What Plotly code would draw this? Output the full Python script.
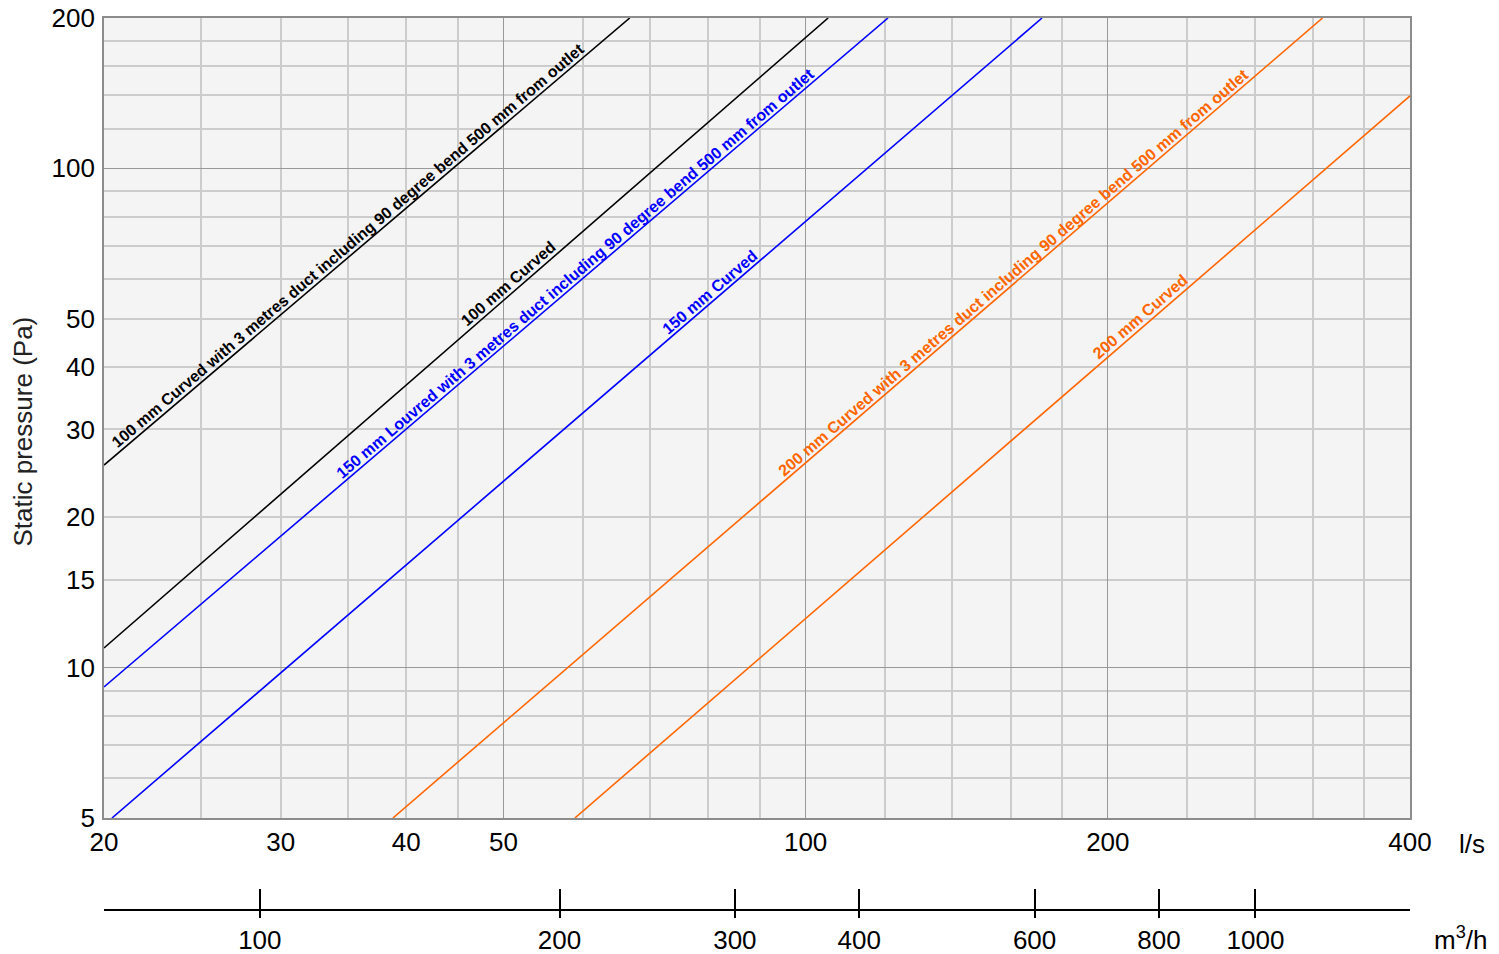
import math
import numpy as np
import plotly.graph_objects as go

# ---------------- data ----------------
# flow in l/s, static pressure in Pa (straight lines on log-log axes)
flow_100_curved_duct = [20, 66.8]
pa_100_curved_duct = [25.45, 200]

flow_100_curved = [20, 105.3]
pa_100_curved = [10.95, 200]

flow_150_louvred_duct = [20, 120.8]
pa_150_louvred_duct = [9.15, 200]

flow_150_curved = [20.37, 172.0]
pa_150_curved = [5, 200]

flow_200_curved_duct = [38.8, 327.3]
pa_200_curved_duct = [5, 200]

flow_200_curved = [58.9, 400]
pa_200_curved = [5, 139.6]

series_names = [
    "100 mm Curved with 3 metres duct including 90 degree bend 500 mm from outlet",
    "100 mm Curved",
    "150 mm Louvred with 3 metres duct including 90 degree bend 500 mm from outlet",
    "150 mm Curved",
    "200 mm Curved with 3 metres duct including 90 degree bend 500 mm from outlet",
    "200 mm Curved",
]
series_flows = [flow_100_curved_duct, flow_100_curved, flow_150_louvred_duct,
                flow_150_curved, flow_200_curved_duct, flow_200_curved]
series_pas = [pa_100_curved_duct, pa_100_curved, pa_150_louvred_duct,
              pa_150_curved, pa_200_curved_duct, pa_200_curved]
series_colors = ["#000000", "#000000", "#0000ff", "#0000ff", "#ff6600", "#ff6600"]
label_flow = [35, 50.6, 58.9, 80.2, 161, 215.6]   # l/s at centre of each label

# axes
x_range_ls = [20, 400]
y_range_pa = [5, 200]
x_label_ticks = [20, 30, 40, 50, 100, 200, 400]
x_major_grid = [50, 100, 200]
x_minor_grid = [25, 30, 35, 40, 45, 60, 70, 80, 90, 120, 140, 160, 180, 240, 280, 320, 360]
y_label_ticks = [5, 10, 15, 20, 30, 40, 50, 100, 200]
y_major_grid = [10, 100]
y_minor_grid = [6, 7, 8, 9, 15, 20, 30, 40, 50, 60, 70, 80, 90, 120, 140, 160, 180]
m3h_ticks = [100, 200, 300, 400, 600, 800, 1000]
m3h_range_log = [1.8435, 3.1552]

# ---------------- layout geometry ----------------
W, H = 1499, 954
ML, MR, MT, MB = 104, 89, 18, 44
plot_w = W - ML - MR
paper_h = H - MT - MB
plot_bottom_px = 818
y_dom0 = (H - MB - plot_bottom_px) / paper_h
plot_h = paper_h * (1 - y_dom0)

FONT = "Liberation Sans, Arial, Helvetica, sans-serif"
LIGHT = "#cccccc"
DARK = "#999999"
FRAME = "#8c8c8c"
TICKSZ = 26

fig = go.Figure()

lx0, lx1 = math.log10(x_range_ls[0]), math.log10(x_range_ls[1])
ly0, ly1 = math.log10(y_range_pa[0]), math.log10(y_range_pa[1])
px_per_dec_x = plot_w / (lx1 - lx0)
px_per_dec_y = plot_h / (ly1 - ly0)

annotations = []
for name, fl, pa, col, lf in zip(series_names, series_flows, series_pas, series_colors, label_flow):
    fig.add_trace(go.Scatter(x=fl, y=pa, mode="lines", line=dict(color=col, width=1.6),
                             name=name, showlegend=False, hoverinfo="skip"))
    lfl = np.log10(fl)
    lpa = np.log10(pa)
    slope = (lpa[1] - lpa[0]) / (lfl[1] - lfl[0])
    ang = -math.degrees(math.atan(slope * px_per_dec_y / px_per_dec_x))
    ly = float(np.interp(math.log10(lf), lfl, lpa))
    annotations.append(dict(
        x=math.log10(lf), y=ly, xref="x", yref="y", text="<b>%s</b>" % name,
        showarrow=False, textangle=ang, yshift=12,
        font=dict(family=FONT, size=16, color=col),
        xanchor="center", yanchor="middle"))

# empty traces so overlay axes get their subplots
fig.add_trace(go.Scatter(x=[], y=[], xaxis="x3", yaxis="y", showlegend=False))
fig.add_trace(go.Scatter(x=[], y=[], xaxis="x", yaxis="y2", showlegend=False))
fig.add_trace(go.Scatter(x=[], y=[], xaxis="x2", yaxis="y", showlegend=False))
fig.add_trace(go.Scatter(x=[], y=[], xaxis="x4", yaxis="y", showlegend=False))

annotations += [
    dict(text="l/s", xref="paper", yref="paper", x=(1457 - ML) / plot_w,
         y=(H - MB - 844) / paper_h, xanchor="left", yanchor="middle", showarrow=False,
         font=dict(family=FONT, size=TICKSZ, color="#000")),
    dict(text="m<sup>3</sup>/h", xref="paper", yref="paper", x=(1432 - ML) / plot_w,
         y=(H - MB - 938) / paper_h, xanchor="left", yanchor="middle", showarrow=False,
         font=dict(family=FONT, size=TICKSZ, color="#000")),
    dict(text="Static pressure (Pa)", xref="paper", yref="paper", x=(22 - ML) / plot_w,
         y=(H - MB - 431.5) / paper_h, xanchor="center", yanchor="middle", showarrow=False,
         textangle=-90, font=dict(family=FONT, size=TICKSZ, color="#222")),
]

fig.update_layout(
    width=W, height=H, autosize=False,
    margin=dict(l=ML, r=MR, t=MT, b=MB, pad=0, autoexpand=False),
    paper_bgcolor="white", plot_bgcolor="#f4f4f4",
    font=dict(family=FONT, size=TICKSZ, color="#000"),
    showlegend=False,
    xaxis=dict(type="log", range=[lx0, lx1], anchor="y", automargin=False,
               tickmode="array", tickvals=x_major_grid, showticklabels=False, ticks="",
               showgrid=True, gridcolor=DARK, gridwidth=1.2,
               minor=dict(tickmode="array", tickvals=x_minor_grid, showgrid=True,
                          gridcolor=LIGHT, gridwidth=1.5, ticks=""),
               showline=True, mirror=True, linecolor=FRAME, linewidth=2, zeroline=False),
    xaxis3=dict(type="log", range=[lx0, lx1], anchor="y", overlaying="x", side="bottom",
                automargin=False,
                tickmode="array", tickvals=x_label_ticks,
                ticktext=[str(v) for v in x_label_ticks], ticks="",
                showgrid=False, showline=False, zeroline=False,
                tickfont=dict(family=FONT, size=TICKSZ, color="#000"),
                ticklabelstandoff=6),
    yaxis=dict(type="log", range=[ly0, ly1], domain=[y_dom0, 1], anchor="x",
               automargin=False,
               tickmode="array", tickvals=y_major_grid, showticklabels=False, ticks="",
               showgrid=True, gridcolor=DARK, gridwidth=1.2,
               minor=dict(tickmode="array", tickvals=y_minor_grid, showgrid=True,
                          gridcolor=LIGHT, gridwidth=1.5, ticks=""),
               showline=True, mirror=True, linecolor=FRAME, linewidth=2, zeroline=False),
    yaxis2=dict(type="log", range=[ly0, ly1], anchor="x", overlaying="y", side="left",
                automargin=False,
                tickmode="array", tickvals=y_label_ticks,
                ticktext=[str(v) for v in y_label_ticks], ticks="",
                showgrid=False, showline=False, zeroline=False,
                tickfont=dict(family=FONT, size=TICKSZ, color="#000"),
                ticklabelstandoff=8),
    xaxis2=dict(type="log", range=m3h_range_log, anchor="free", position=0,
                overlaying="x", side="bottom", automargin=False,
                tickmode="array", tickvals=m3h_ticks, ticktext=[str(v) for v in m3h_ticks],
                ticks="outside", ticklen=7, tickwidth=2, tickcolor="#000",
                showline=True, linecolor="#000", linewidth=2,
                showgrid=False, zeroline=False,
                tickfont=dict(family=FONT, size=TICKSZ, color="#000")),
    xaxis4=dict(type="log", range=m3h_range_log, anchor="free", position=0,
                overlaying="x", side="bottom", automargin=False,
                tickmode="array", tickvals=m3h_ticks, showticklabels=False,
                ticks="inside", ticklen=21, tickwidth=2, tickcolor="#000",
                showline=False, showgrid=False, zeroline=False),
    annotations=annotations,
)

fig.write_html("out.html", config={"displayModeBar": False},
               post_script="document.body.style.margin='0px';document.body.style.overflow='hidden';")
